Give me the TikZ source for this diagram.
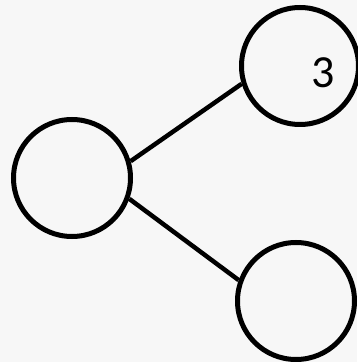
\documentclass[tikz,border=0pt]{standalone}
\usepackage{fontspec}
\setmainfont{Carlito}
\begin{document}
\begin{tikzpicture}[x=1pt,y=1pt,
  bubble/.style={circle,draw=black,line width=5pt,minimum size=117pt,inner sep=0pt},
  link/.style={draw=black,line width=4.5pt}]
\fill[black!3] (0,0) rectangle (357,362);
\useasboundingbox (0,0) rectangle (357,362);
\node[bubble] (L) at (72,184) {};
\node[bubble] (T) at (300,296) {};
\node[bubble] (B) at (296,61) {};
\node[font=\fontsize{46}{50}\selectfont] (n3) at (323,289) {3};
\draw[link] (L.16) -- (T.197);
\draw[link] (L.-20) -- (B.160);
\end{tikzpicture}
\end{document}
